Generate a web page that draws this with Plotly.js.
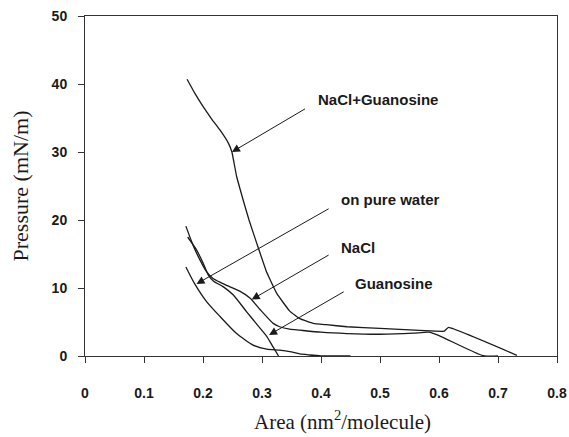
<!DOCTYPE html>
<html>
<head>
<meta charset="utf-8">
<script src="https://cdn.plot.ly/plotly-3.0.1.min.js"></script>
<style>html,body{margin:0;padding:0;background:#fff;}#chart{width:569px;height:437px;}</style>
</head>
<body>
<div id="chart"></div>
<script>
// NaCl + Guanosine
const naclGuanX = [0.173,0.187,0.200,0.215,0.229,0.243,0.249,0.257,0.2695,0.278,0.291,0.308,0.325,0.347,0.364,0.387,0.409,0.444,0.500,0.550,0.585,0.609,0.616,0.732];
const naclGuanY = [40.7,38.5,36.7,34.8,33.2,31.3,30.0,26.4,22.5,20.0,16.6,12.3,9.2,6.6,5.5,4.8,4.6,4.3,4.05,3.85,3.7,3.65,4.2,0.1];
// NaCl
const naclX = [0.171,0.184,0.195,0.206,0.217,0.230,0.245,0.263,0.280,0.297,0.319,0.330,0.347,0.364,0.400,0.444,0.500,0.556,0.583,0.600,0.675,0.700];
const naclY = [19.1,16.1,14.1,12.4,11.4,10.8,10.2,9.5,8.5,6.8,4.8,4.3,3.95,3.8,3.5,3.3,3.2,3.35,3.5,3.0,0.05,0.0];
// Guanosine
const guanX = [0.174,0.189,0.2005,0.209,0.218,0.234,0.251,0.274,0.290,0.308,0.319,0.328];
const guanY = [17.5,15.6,13.6,11.9,11.0,10.2,9.0,6.5,4.8,2.9,1.3,0.0];
// on pure water
const waterX = [0.171,0.186,0.206,0.229,0.257,0.285,0.308,0.330,0.347,0.364,0.381,0.400,0.450];
const waterY = [13.1,10.6,8.0,5.8,3.3,1.6,1.0,0.85,0.65,0.3,0.15,0.02,0.0];

// curve labels and their arrows
const labelNames = ["NaCl+Guanosine","on pure water","NaCl","Guanosine"];
const tipX = [0.249,0.189,0.2825,0.312];
const tipY = [30.0,10.6,8.3,3.1];
const tailX = [0.378,0.418,0.418,0.4436];
const tailY = [36.6,21.9,15.1,9.7];
const textX = [0.391,0.431,0.431,0.454];
const textY = [37.7,23.0,15.95,10.7];

const xTicks = [0,0.1,0.2,0.3,0.4,0.5,0.6,0.7,0.8];
const yTicks = [0,10,20,30,40,50];

const lineStyle = {color:'#1a1a1a', width:1.3, shape:'spline', smoothing:0.6};
const traces = [
  {x:naclGuanX, y:naclGuanY, mode:'lines', name:'NaCl+Guanosine', line:Object.assign({},lineStyle,{smoothing:0.3})},
  {x:naclX, y:naclY, mode:'lines', name:'NaCl', line:lineStyle},
  {x:guanX, y:guanY, mode:'lines', name:'Guanosine', line:lineStyle},
  {x:waterX, y:waterY, mode:'lines', name:'on pure water', line:lineStyle}
];

const annotations = [];
for (let i=0;i<labelNames.length;i++){
  annotations.push({x:tipX[i], y:tipY[i], ax:tailX[i], ay:tailY[i], axref:'x', ayref:'y', xref:'x', yref:'y',
    text:' ', showarrow:true, arrowhead:2, arrowsize:1.6, arrowwidth:1, arrowcolor:'#1a1a1a'});
  annotations.push({x:textX[i], y:textY[i], xref:'x', yref:'y', text:labelNames[i], showarrow:false,
    xanchor:'left', yanchor:'middle', font:{family:'Liberation Sans, Arial, sans-serif', size:15, color:'#1a1a1a', weight:'bold'}});
}
annotations.push({xref:'paper', yref:'paper', x:0.545, y:-0.19, xanchor:'center', yanchor:'middle', showarrow:false,
  text:'Area (nm<sup>2</sup>/molecule)', font:{family:'Liberation Serif, Times New Roman, serif', size:21, color:'#1a1a1a'}});

const layout = {
  width:569, height:437,
  margin:{l:85, r:12, t:16, b:81},
  paper_bgcolor:'#fff', plot_bgcolor:'#fff',
  showlegend:false,
  font:{family:'Liberation Sans, Arial, sans-serif', color:'#1a1a1a'},
  xaxis:{range:[0,0.8], tickvals:xTicks, ticktext:xTicks.map(String), ticks:'outside', ticklen:6, tickwidth:1, tickcolor:'#333',
    showline:true, linecolor:'#333', linewidth:1, mirror:true, showgrid:false, zeroline:false,
    tickfont:{size:14, weight:'bold', color:'#1a1a1a'}, ticklabelstandoff:18},
  yaxis:{range:[0,50], tickvals:yTicks, ticktext:yTicks.map(String), ticks:'outside', ticklen:6, tickwidth:1, tickcolor:'#333',
    showline:true, linecolor:'#333', linewidth:1, mirror:true, showgrid:false, zeroline:false,
    tickfont:{size:14, weight:'bold', color:'#1a1a1a'}, ticklabelstandoff:8,
    title:{text:'Pressure (mN/m)', font:{family:'Liberation Serif, Times New Roman, serif', size:22, color:'#1a1a1a'}, standoff:16}},
  annotations:annotations
};
Plotly.newPlot('chart', traces, layout, {displayModeBar:false, staticPlot:true});
</script>
</body>
</html>
